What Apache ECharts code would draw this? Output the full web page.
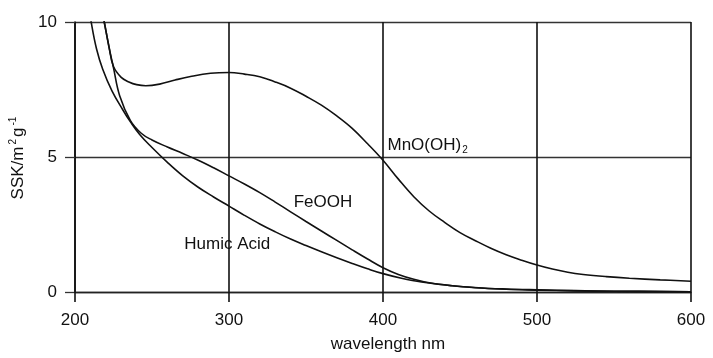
<!DOCTYPE html>
<html>
<head>
<meta charset="utf-8">
<script src="https://cdn.jsdelivr.net/npm/echarts@6/dist/echarts.min.js"></script>
<style>
  html, body { margin: 0; padding: 0; background: #fff; }
  #chart { width: 713px; height: 358px; }
</style>
</head>
<body>
<div id="chart"></div>
<script>
// Specific surface absorbance spectra (SSK, m^2/g) against wavelength
const xTicks = [200, 300, 400, 500, 600];
const yTicks = [0, 5, 10];

const mnoWavelength = [217, 219, 222, 225, 230, 235, 240, 246, 255, 265, 275, 288, 300, 310, 320, 330, 340, 350, 360, 370, 380, 390, 400, 410, 420, 430, 440, 450, 460, 470, 480, 490, 500, 510, 520, 530, 545, 560, 580, 600];
const mnoSSK        = [10.6, 10.0, 9.1, 8.35, 7.95, 7.78, 7.68, 7.64, 7.7, 7.85, 7.98, 8.1, 8.13, 8.07, 7.97, 7.78, 7.55, 7.25, 6.92, 6.52, 6.06, 5.49, 4.88, 4.18, 3.53, 3.0, 2.58, 2.2, 1.9, 1.62, 1.38, 1.18, 1.0, 0.85, 0.73, 0.65, 0.57, 0.51, 0.45, 0.4];

const feoohWavelength = [217, 219, 222, 225, 229, 236, 243, 250, 260, 270, 280, 290, 300, 310, 320, 330, 340, 350, 360, 370, 380, 390, 400, 410, 420, 430, 445, 460, 480, 500, 525, 550, 600];
const feoohSSK        = [10.6, 10.0, 9.1, 8.3, 7.27, 6.35, 5.88, 5.63, 5.37, 5.13, 4.88, 4.6, 4.3, 4.0, 3.68, 3.33, 2.97, 2.61, 2.26, 1.91, 1.56, 1.22, 0.9, 0.65, 0.47, 0.34, 0.23, 0.16, 0.11, 0.08, 0.05, 0.03, 0.01];

const humicWavelength = [209, 210.5, 214, 218, 224, 231, 236, 242, 250, 260, 270, 280, 290, 300, 310, 320, 330, 340, 350, 360, 370, 380, 390, 400, 412, 425, 445, 464, 480, 500, 525, 550, 600];
const humicSSK        = [10.6, 10.0, 9.0, 8.25, 7.45, 6.75, 6.3, 5.83, 5.35, 4.8, 4.3, 3.88, 3.52, 3.18, 2.84, 2.52, 2.23, 1.96, 1.72, 1.49, 1.27, 1.06, 0.86, 0.68, 0.51, 0.37, 0.23, 0.15, 0.1, 0.07, 0.04, 0.03, 0.01];

// Curve captions and their anchor points (left edge, vertical middle) in data units
const captionNames = ['MnO(OH)', 'FeOOH', 'Humic Acid'];
const captionAnchors = [[402.9, 5.44], [342.0, 3.32], [271.0, 1.75]];

const FONT = '"Liberation Sans", Arial, sans-serif';

function pairs(xs, ys) { return xs.map((x, i) => [x, ys[i]]); }

const curveStyle = { color: '#111', width: 1.6 };
function curve(name, xs, ys) {
  return {
    name, type: 'line', data: pairs(xs, ys), smooth: 0.4,
    showSymbol: false, symbol: 'none', lineStyle: curveStyle, clip: true, silent: true
  };
}

const chart = echarts.init(document.getElementById('chart'), null, { renderer: 'canvas' });
chart.setOption({
  animation: false,
  backgroundColor: '#fff',
  grid: { left: 72, right: 22, top: 22, bottom: 62, containLabel: false },
  xAxis: {
    type: 'value', min: xTicks[0], max: xTicks[xTicks.length - 1], interval: 100,
    name: 'wavelength nm', nameLocation: 'middle', nameGap: 44,
    nameTextStyle: { fontFamily: FONT, fontSize: 17, color: '#111', padding: [0, 0, 0, 10] },
    axisLine: { show: true, lineStyle: { color: '#222', width: 1.3 } },
    axisTick: { show: true, inside: false, length: 10, lineStyle: { color: '#111', width: 1.6 } },
    axisLabel: { fontFamily: FONT, fontSize: 17, color: '#111', margin: 20 },
    splitLine: { show: true, lineStyle: { color: '#111', width: 1.6 } }
  },
  yAxis: {
    type: 'value', min: yTicks[0], max: yTicks[yTicks.length - 1], interval: 5,
    name: '{m|SSK/m}{s|2}{m|g}{s|-1}', nameLocation: 'middle', nameGap: 47,
    nameTextStyle: {
      rich: {
        m: { fontFamily: FONT, fontSize: 17, color: '#111' },
        s: { fontFamily: FONT, fontSize: 10, color: '#111', verticalAlign: 'top', padding: [0, 2, 10, 2] }
      }
    },
    axisLine: { show: true, lineStyle: { color: '#111', width: 1.6 } },
    axisTick: { show: true, inside: false, length: 10, lineStyle: { color: '#333', width: 1.3 } },
    axisLabel: { fontFamily: FONT, fontSize: 17, color: '#111', margin: 18 },
    splitLine: { show: true, lineStyle: { color: '#333', width: 1.3 } }
  },
  series: [
    curve('MnO(OH)2', mnoWavelength, mnoSSK),
    curve('FeOOH', feoohWavelength, feoohSSK),
    curve('Humic Acid', humicWavelength, humicSSK)
  ]
});

// Place the curve captions next to their curves
const captionElements = captionNames.map((txt, i) => {
  const p = chart.convertToPixel({ gridIndex: 0 }, captionAnchors[i]);
  const isMn = i === 0;
  return {
    type: 'text', x: p[0], y: p[1], silent: true,
    style: isMn ? {
      text: '{m|MnO(OH)}{s|2}',
      rich: {
        m: { fontFamily: FONT, fontSize: 17, fill: '#111' },
        s: { fontFamily: FONT, fontSize: 10, fill: '#111', padding: [10, 0, 0, 1] }
      },
      verticalAlign: 'middle', align: 'left'
    } : {
      text: txt, fontFamily: FONT, fontSize: 17, fill: '#111',
      verticalAlign: 'middle', align: 'left'
    }
  };
});
chart.setOption({ graphic: captionElements });
</script>
</body>
</html>
